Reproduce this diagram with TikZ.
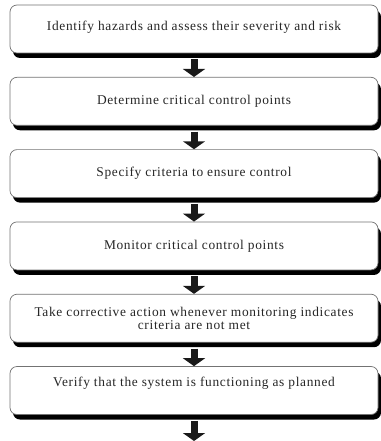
\documentclass[tikz,border=0pt]{standalone}
\usepackage{fontspec}
\setmainfont{Liberation Serif}[LetterSpace=5]
\usetikzlibrary{positioning,shadows,arrows.meta}

\tikzset{
  stepbox/.style={draw=black!55, line width=0.7pt, fill=white, rounded corners=7pt,
    minimum width=368pt, minimum height=48pt, align=center, text=black!85,
    font=\fontsize{13.4}{13.5}\selectfont,
    drop shadow={shadow xshift=3pt, shadow yshift=-5pt, fill=black, opacity=1}},
  flow/.style={line width=7pt, black!90, -{Triangle[width=22pt, length=8pt]}}
}

\begin{document}
\begin{tikzpicture}[x=1pt, y=1pt]
    \useasboundingbox (0,0) rectangle (380,-441);

    % Steps
    \node[stepbox, text depth=6pt] (hazards) at (194,-29) {Identify hazards and assess their severity and risk};
    \node[stepbox, below=23.6pt of hazards] (ccp) {Determine critical control points};
    \node[stepbox, below=23.6pt of ccp] (criteria) {Specify criteria to ensure control};
    \node[stepbox, below=23.6pt of criteria] (monitor) {Monitor critical control points};
    \node[stepbox, below=23.6pt of monitor] (action) {Take corrective action whenever monitoring indicates\\ criteria are not met};
    \node[stepbox, below=23.6pt of action, text depth=18pt] (verify) {Verify that the system is functioning as planned};
    \coordinate (bottom) at (194,-441);

    % Arrows between steps
    \draw[flow] ([yshift=-6pt]hazards.south) -- (ccp.north);
    \draw[flow] ([yshift=-6pt]ccp.south) -- (criteria.north);
    \draw[flow] ([yshift=-6pt]criteria.south) -- (monitor.north);
    \draw[flow] ([yshift=-6pt]monitor.south) -- (action.north);
    \draw[flow] ([yshift=-6pt]action.south) -- (verify.north);
    \draw[flow] ([yshift=-6pt]verify.south) -- (bottom);
\end{tikzpicture}
\end{document}
